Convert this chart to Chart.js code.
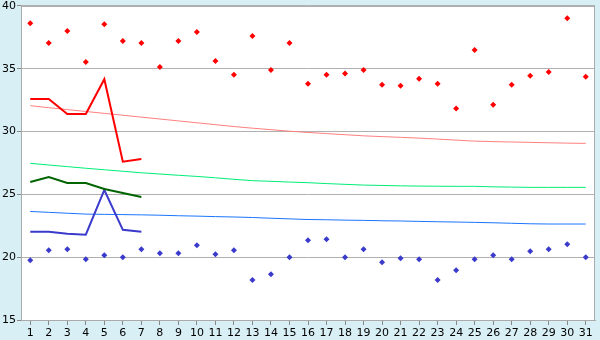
<!DOCTYPE html>
<html>
<head>
<meta charset="utf-8">
<script src="https://cdn.jsdelivr.net/npm/chart.js@4"></script>
<style>
  html, body { margin: 0; padding: 0; background: #d9eff6; }
  #wrap { width: 600px; height: 340px; }
</style>
</head>
<body>
<div id="wrap"><canvas id="temps"></canvas></div>
<script>
const days = ["1","2","3","4","5","6","7","8","9","10","11","12","13","14","15","16","17","18","19","20","21","22","23","24","25","26","27","28","29","30","31"];
const yTicks = [15, 20, 25, 30, 35, 40];

// record highs / lows (dots)
const recordHigh = [38.63,37.05,38.0,35.54,38.55,37.21,37.05,35.15,37.2,37.92,35.62,34.52,37.6,34.91,37.05,33.8,34.52,34.62,34.91,33.72,33.65,34.2,33.8,31.83,36.5,32.14,33.72,34.44,34.75,39.03,34.36];
const recordLow = [19.76,20.55,20.63,19.84,20.16,20.0,20.63,20.32,20.32,20.95,20.24,20.55,18.18,18.65,20.0,21.34,21.42,20.0,20.63,19.6,19.92,19.84,18.18,18.97,19.84,20.16,19.84,20.47,20.63,21.03,20.0];

// this month (first week)
const curMax = [32.59,32.59,31.4,31.4,34.17,27.6,27.82];
const curMean = [25.98,26.38,25.9,25.9,25.43,25.11,24.79];
const curMin = [22.03,22.03,21.87,21.79,25.35,22.18,22.03];

// normals
const normMax = [32.06,31.9,31.75,31.6,31.45,31.3,31.15,31.0,30.85,30.7,30.55,30.4,30.27,30.15,30.03,29.93,29.84,29.75,29.66,29.6,29.54,29.48,29.4,29.32,29.24,29.2,29.17,29.14,29.11,29.08,29.06];
const normMean = [27.47,27.34,27.21,27.08,26.96,26.84,26.72,26.62,26.52,26.43,26.32,26.2,26.09,26.04,25.98,25.93,25.86,25.8,25.74,25.71,25.68,25.66,25.65,25.64,25.64,25.6,25.58,25.56,25.56,25.56,25.56];
const normMin = [23.64,23.57,23.5,23.43,23.41,23.39,23.37,23.34,23.3,23.27,23.23,23.2,23.16,23.1,23.05,23.0,22.98,22.95,22.93,22.9,22.88,22.85,22.82,22.8,22.77,22.74,22.7,22.66,22.64,22.64,22.64];

function dots(values, color) {
  return { type: 'line', data: values, showLine: false, borderColor: color, backgroundColor: color,
    pointStyle: 'rectRot', pointRadius: 3, pointBorderWidth: 0 };
}
function line(values, color, w) {
  return { type: 'line', data: values, borderColor: color, borderWidth: w, pointRadius: 0,
    tension: 0, fill: false };
}

const plotBg = {
  id: 'plotBg',
  beforeDraw(chart) {
    const a = chart.chartArea, c = chart.ctx;
    c.save();
    c.fillStyle = '#ffffff';
    c.fillRect(a.left, a.top, a.right - a.left, a.bottom - a.top);
    c.restore();
  },
  beforeDatasetsDraw(chart) {
    const a = chart.chartArea, c = chart.ctx;
    c.save();
    c.strokeStyle = '#aaaaaa';
    c.lineWidth = 1;
    c.strokeRect(a.left + 0.5, a.top + 0.5, a.right - a.left - 1, a.bottom - a.top);
    c.restore();
  }
};

new Chart(document.getElementById('temps'), {
  data: {
    labels: days,
    datasets: [
      dots(recordHigh, '#ff0000'),
      dots(recordLow, '#3a3acc'),
      line(curMax, '#ff0000', 2),
      line(curMean, '#006400', 2),
      line(curMin, '#3a3acc', 2),
      line(normMax, '#ff8080', 1),
      line(normMean, '#00ee77', 1),
      line(normMin, '#1a75ff', 1)
    ]
  },
  options: {
    responsive: true,
    maintainAspectRatio: false,
    animation: false,
    layout: { padding: { top: 5, right: 5, left: 0, bottom: 0 } },
    plugins: { legend: { display: false }, tooltip: { enabled: false } },
    scales: {
      x: {
        offset: true,
        grid: { drawOnChartArea: false, drawTicks: true, tickLength: 5, tickColor: '#888888', offset: false },
        border: { color: '#aaaaaa' },
        ticks: { color: '#000000', font: { family: 'DejaVu Sans', size: 11 }, padding: 2, autoSkip: false, maxRotation: 0 },
        afterFit(s) { s.height = 20; }
      },
      y: {
        min: 15, max: 40,
        afterBuildTicks(s) { s.ticks = yTicks.map(v => ({ value: v })); },
        grid: { color: '#b0b0b0', tickColor: '#888888', tickLength: 4 },
        border: { color: '#aaaaaa' },
        ticks: { color: '#000000', font: { family: 'DejaVu Sans', size: 11, lineHeight: 0.9 }, padding: 1 },
        afterFit(s) { s.width = 21; }
      }
    }
  },
  plugins: [plotBg]
});
</script>
</body>
</html>
